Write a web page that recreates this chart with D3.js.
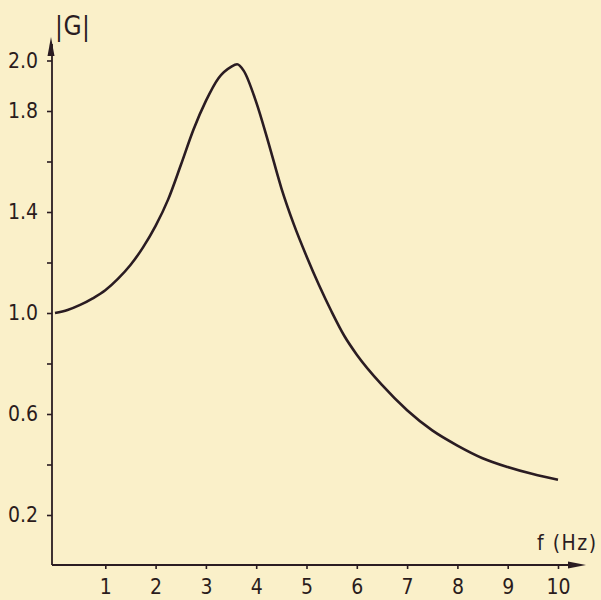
<!DOCTYPE html>
<html>
<head>
<meta charset="utf-8">
<script src="https://cdn.jsdelivr.net/npm/d3@7"></script>
<style>
  body { margin: 0; background: #faf0c9; }
  svg { display: block; }
  .tick text { font-family: "DejaVu Sans Condensed", "DejaVu Sans", sans-serif; fill: #2a1c1c; }
</style>
</head>
<body>
<div id="master"></div>
<script>
// values
let freq = [0, 0.25, 0.5, 0.75, 1, 1.25, 1.5, 1.75, 2, 2.25, 2.5, 2.75, 3, 3.25, 3.5, 3.62, 3.75, 4, 4.25, 4.5, 4.75, 5, 5.25, 5.5, 5.75, 6, 6.5, 7, 7.5, 8, 8.5, 9, 9.5, 10]
let gain = [1.0, 1.012, 1.032, 1.058, 1.09, 1.135, 1.19, 1.26, 1.345, 1.45, 1.585, 1.725, 1.84, 1.93, 1.975, 1.985, 1.96, 1.835, 1.67, 1.495, 1.35, 1.225, 1.11, 1.005, 0.91, 0.835, 0.715, 0.615, 0.535, 0.475, 0.425, 0.39, 0.362, 0.34]
let xTicks = [1, 2, 3, 4, 5, 6, 7, 8, 9, 10]
let yTicks = [0.2, 0.4, 0.6, 0.8, 1.0, 1.2, 1.4, 1.6, 1.8, 2.0]
let yLabels = [0.2, 0.6, 1.0, 1.4, 1.8, 2.0]

let w = 601, h = 600
let ink = "#2a1c22"

let svg = d3.select("#master").append("svg").attr("width", w).attr("height", h)

let x = d3.scaleLinear().domain([0, 10]).range([55, 558])
let y = d3.scaleLinear().domain([0, 2]).range([565.5, 60.5])

let xAxis = d3.axisBottom(x).tickValues(xTicks).tickSize(4).tickPadding(10).tickFormat(d => d)
let yAxis = d3.axisLeft(y).tickValues(yTicks).tickSize(5).tickPadding(9)
  .tickFormat(d => yLabels.some(v => Math.abs(v - d) < 1e-9) ? d3.format(".1f")(d) : "")

let gx = svg.append("g").attr("transform", "translate(0,565)").call(xAxis)
let gy = svg.append("g").attr("transform", "translate(52,0)").call(yAxis)
;[gx, gy].forEach(g => {
  g.select(".domain").remove()
  g.selectAll(".tick line").attr("stroke", ink).attr("stroke-width", 1.6)
  g.selectAll(".tick text").attr("font-size", 21)
})

// axis lines with arrows
svg.append("line").attr("x1", 52).attr("y1", 565).attr("x2", 580).attr("y2", 565)
  .attr("stroke", ink).attr("stroke-width", 1.8)
svg.append("line").attr("x1", 52).attr("y1", 565).attr("x2", 52).attr("y2", 44)
  .attr("stroke", ink).attr("stroke-width", 1.8)
svg.append("path").attr("d", "M586,565 L568,561.5 L568,568.5 Z").attr("fill", ink)
svg.append("path").attr("d", "M51,37 L47.5,56 L54.5,56 Z").attr("fill", ink)

// curve
let line = d3.line().x((d, i) => x(freq[i])).y(d => y(d)).curve(d3.curveMonotoneX)
svg.append("path").datum(gain).attr("d", line)
  .attr("fill", "none").attr("stroke", ink).attr("stroke-width", 2.6)

// axis titles
svg.append("text").attr("x", 55).attr("y", 35).text("|G|")
  .attr("font-family", "DejaVu Sans Condensed, DejaVu Sans, sans-serif")
  .attr("font-size", 26).attr("fill", ink).attr("letter-spacing", 0.5)
svg.append("text").attr("x", 537).attr("y", 550).text("f (Hz)")
  .attr("font-family", "DejaVu Sans Condensed, DejaVu Sans, sans-serif")
  .attr("font-size", 21).attr("fill", ink).attr("letter-spacing", 1.5)
  .attr("xml:space", "preserve")
</script>
</body>
</html>
